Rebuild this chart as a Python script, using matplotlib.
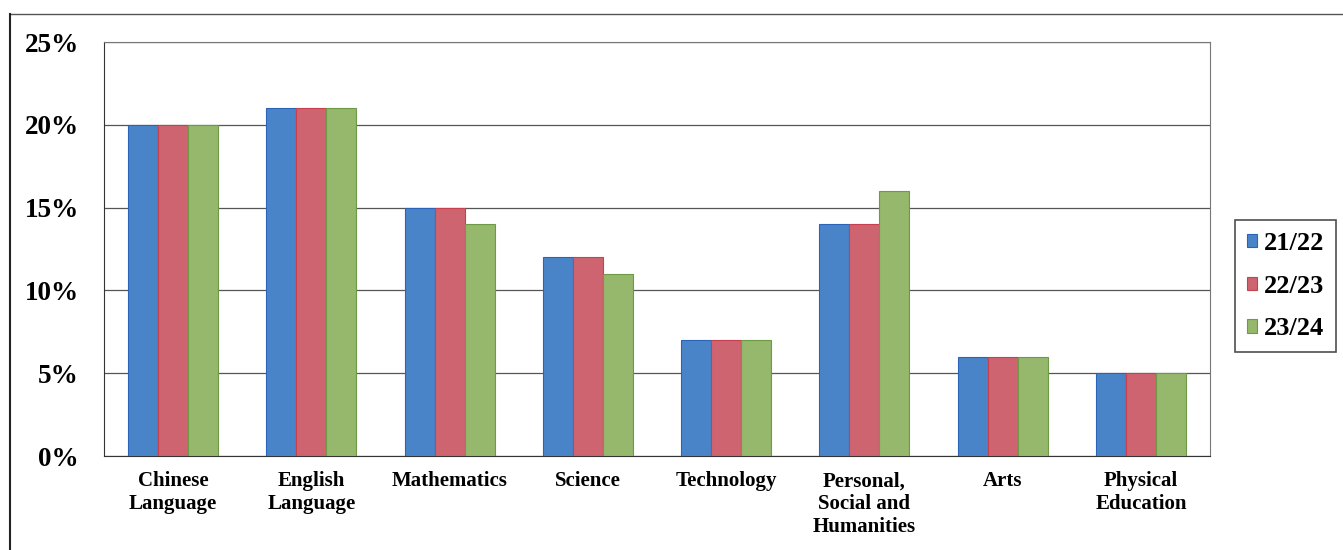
import numpy as np
import matplotlib
matplotlib.use("Agg")
import matplotlib.pyplot as plt
from matplotlib.ticker import FuncFormatter

# -------------------------------------
# Data
# -------------------------------------
subjects = ["Chinese\nLanguage", "English\nLanguage", "Mathematics", "Science",
            "Technology", "Personal,\nSocial and\nHumanities", "Arts",
            "Physical\nEducation"]
years = ["21/22", "22/23", "23/24"]
share_2122 = [20, 21, 15, 12, 7, 14, 6, 5]
share_2223 = [20, 21, 15, 12, 7, 14, 6, 5]
share_2324 = [20, 21, 14, 11, 7, 16, 6, 5]

face = ["#4a84c8", "#cd6470", "#95b86c"]
edge = ["#2a63b8", "#c8404e", "#6f9a45"]

plt.rcParams['font.family'] = ['Liberation Serif', 'DejaVu Serif']
plt.rcParams['font.weight'] = 'bold'

fig = plt.figure(figsize=(13.43, 5.50), dpi=100)
ax = fig.add_axes([104 / 1343, 1 - 456 / 550, (1210 - 104) / 1343, (456 - 42) / 550])

# outer frame (top and left visible in the scan)
fig.add_artist(plt.Line2D([10 / 1343, 1.0], [1 - 14 / 550, 1 - 14 / 550],
                          color="#555555", lw=1.0, transform=fig.transFigure))
fig.add_artist(plt.Line2D([10 / 1343, 10 / 1343], [0.0, 1 - 14 / 550],
                          color="#222222", lw=1.5, transform=fig.transFigure))

x = np.arange(len(subjects))
w = 0.217
for i, vals in enumerate([share_2122, share_2223, share_2324]):
    ax.bar(x + (i - 1) * w, vals, w, color=face[i], edgecolor=edge[i],
           linewidth=0.8, label=years[i], zorder=3)

ax.set_xlim(-0.5, len(subjects) - 0.5)
ax.set_ylim(0, 25)
ax.set_yticks([0, 5, 10, 15, 20, 25])
ax.yaxis.set_major_formatter(FuncFormatter(lambda v, p: "%d%%" % v))
ax.grid(axis='y', color="#555555", lw=0.9, zorder=0)
ax.set_xticks(x)
ax.set_xticklabels(subjects, fontsize=15, fontweight='bold', linespacing=1.2)
ax.tick_params(axis='both', length=0)
ax.tick_params(axis='x', pad=11)
ax.tick_params(axis='y', pad=18, labelsize=19.5)
for s in ["top", "right"]:
    ax.spines[s].set_color("#777777")
    ax.spines[s].set_linewidth(0.8)
ax.spines["left"].set_color("#333333")
ax.spines["bottom"].set_color("#333333")

leg = ax.legend(loc='center left', bbox_to_anchor=(1.0226, 0.41), fontsize=19,
                frameon=True, fancybox=False, edgecolor="#222222",
                handlelength=0.4, handleheight=0.4, handletextpad=0.25,
                labelspacing=0.74, borderpad=0.45, borderaxespad=0)
leg.get_frame().set_linewidth(1.2)

fig.savefig("out.png", dpi=100)
